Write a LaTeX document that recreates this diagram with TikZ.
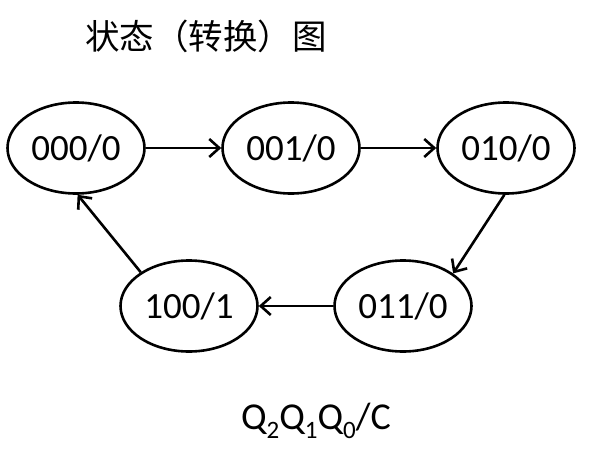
\documentclass[tikz,border=0pt]{standalone}
\usepackage{fontspec}
\setmainfont{Carlito}
\newfontfamily\cjk{Noto Sans CJK SC}
\usetikzlibrary{arrows.meta,shapes.geometric}
\begin{document}
\begin{tikzpicture}[x=1pt,y=-1pt,
  st/.style={draw,ellipse,line width=2.6pt,minimum width=137pt,minimum height=91pt,inner sep=0pt,font=\fontsize{37}{37}\selectfont},
  tr/.style={line width=2.6pt,-{Straight Barb[length=10pt,width=18pt]}}]
\useasboundingbox(0,0)rectangle(603,458);
\node(title)at(206,36){\cjk\fontsize{34.5}{34.5}\selectfont 状态（转换）图};
\foreach\n/\x/\y/\s/\o in{a/76/148/000/0,b/291/148/001/0,c/506/148/010/0,d/403/306/011/0,e/189/306/100/1}{\node[st](\n)at(\x,\y){\s/\o};}
\draw[tr](a.east)--(b.west);\draw[tr](b.east)--(c.west);
\draw[tr](c.268)--(d.33);\draw[tr](d.west)--(e.east);\draw[tr](e.145)--(a.272);
\node(key)at(316,421){\fontsize{38}{38}\selectfont Q\raisebox{-.22em}{\fontsize{25}{25}\selectfont 2}Q\raisebox{-.22em}{\fontsize{25}{25}\selectfont 1}Q\raisebox{-.22em}{\fontsize{25}{25}\selectfont 0}/C};
\end{tikzpicture}
\end{document}
